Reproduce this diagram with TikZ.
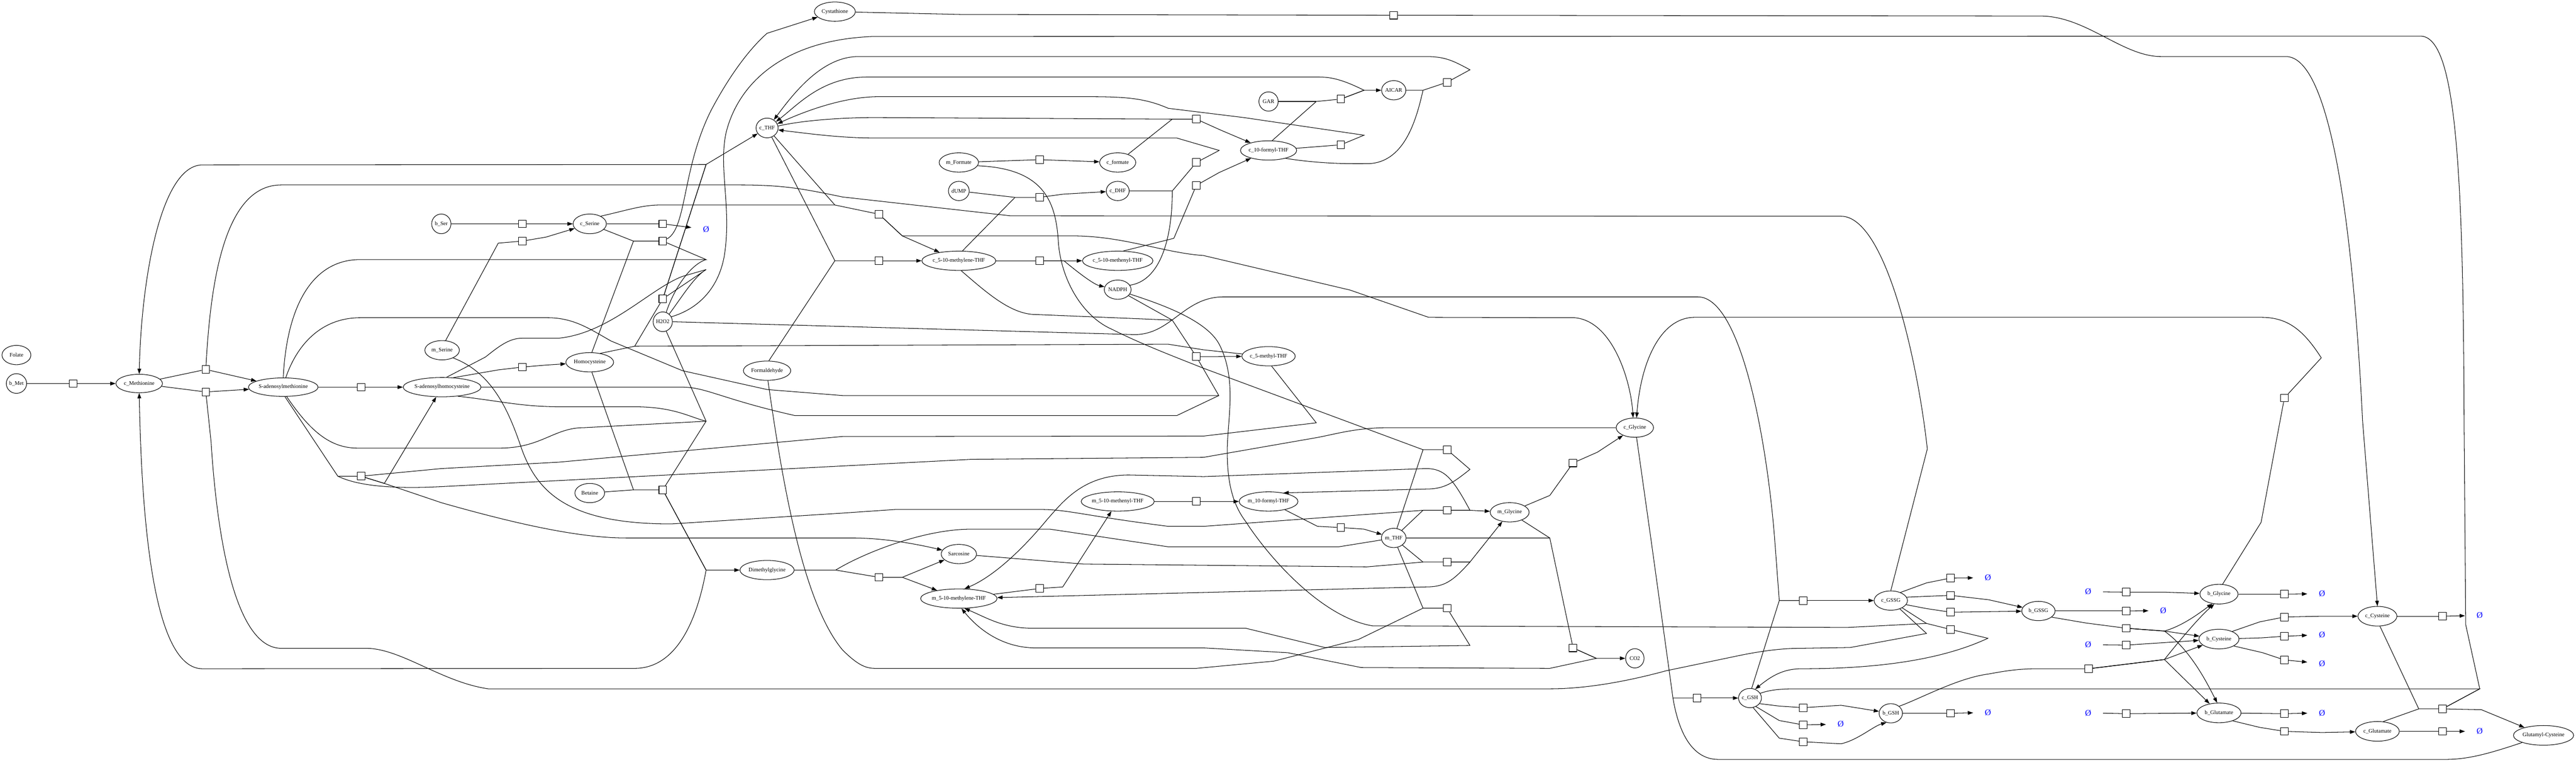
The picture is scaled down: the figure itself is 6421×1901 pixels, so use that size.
\documentclass[tikz,border=0pt]{standalone}
\usepackage{fontspec}
\setmainfont{Liberation Serif}
\usetikzlibrary{shapes.geometric,arrows.meta}
\tikzset{
  spc/.style 2 args={ellipse, draw, line width=0.38pt, inner sep=0pt, minimum width=#1cm, minimum height=#2cm, font=\fontsize{3.9}{4.7}\selectfont},
  rxn/.style={rectangle, draw, line width=0.38pt, minimum size=0.19cm, inner sep=0pt, fill=white},
  nul/.style={inner sep=0pt, minimum width=0.72cm, minimum height=0.48cm, text=blue, font=\fontsize{6}{7}\selectfont},
  lnk/.style={line width=0.38pt},
  arw/.style={line width=0.38pt, -{Triangle[length=0.133cm,width=0.093cm]}}
}
\begin{document}
\begin{tikzpicture}[x=0.01cm,y=-0.01cm]
\useasboundingbox (0,0) rectangle (6421,1901);
\fill[white] (0,0) rectangle (6421,1901);
% species
\node[spc={0.72}{0.48}] (Folate) at (41,885) {Folate};
\node[spc={0.47}{0.49}] (bMet) at (41,956) {b\_Met};
\node[spc={1.16}{0.46}] (cMet) at (347,956) {c\_Methionine};
\node[spc={1.69}{0.46}] (SAM) at (706,965) {S-adenosylmethionine};
\node[spc={1.88}{0.48}] (SAH) at (1102,965) {S-adenosylhomocysteine};
\node[spc={0.48}{0.49}] (bSer) at (1100,558) {b\_Ser};
\node[spc={0.83}{0.49}] (cSer) at (1470,558) {c\_Serine};
\node[spc={0.86}{0.48}] (mSer) at (1102,873) {m\_Serine};
\node[spc={1.19}{0.48}] (Hcy) at (1470,903) {Homocysteine};
\node[spc={0.48}{0.49}] (H2O2) at (1652,802) {H2O2};
\node[spc={0.74}{0.48}] (Bet) at (1470,1229) {Betaine};
\node[spc={1.18}{0.48}] (Form) at (1912,924) {Formaldehyde};
\node[spc={1.35}{0.48}] (DMG) at (1912,1421) {Dimethylglycine};
\node[spc={0.47}{0.49}] (cTHF) at (1912,319) {c\_THF};
\node[spc={1.02}{0.48}] (Cysta) at (2081,29) {Cystathione};
\node[spc={0.98}{0.48}] (mFor) at (2390,405) {m\_Formate};
\node[spc={0.90}{0.48}] (cFor) at (2786,405) {c\_formate};
\node[spc={0.48}{0.48}] (dUMP) at (2390,476) {dUMP};
\node[spc={0.48}{0.48}] (cDHF) at (2786,476) {c\_DHF};
\node[spc={1.77}{0.48}] (cMe) at (2390,650) {c\_5-10-methylene-THF};
\node[spc={1.70}{0.48}] (cMn) at (2786,650) {c\_5-10-methenyl-THF};
\node[spc={0.48}{0.48}] (NADPH) at (2786,722) {NADPH};
\node[spc={0.48}{0.48}] (GAR) at (3162,253) {GAR};
\node[spc={0.48}{0.48}] (AICAR) at (3474,225) {AICAR};
\node[spc={1.38}{0.48}] (cFo) at (3162,375) {c\_10-formyl-THF};
\node[spc={1.33}{0.48}] (cMTHF) at (3162,888) {c\_5-methyl-THF};
\node[spc={0.88}{0.48}] (Sarc) at (2390,1381) {Sarcosine};
\node[spc={1.82}{0.48}] (mMe) at (2390,1492) {m\_5-10-methylene-THF};
\node[spc={1.74}{0.48}] (mMn) at (2786,1250) {m\_5-10-methenyl-THF};
\node[spc={1.42}{0.48}] (mFo) at (3162,1250) {m\_10-formyl-THF};
\node[spc={0.48}{0.48}] (mTHF) at (3474,1341) {m\_THF};
\node[spc={0.97}{0.48}] (mGly) at (3763,1277) {m\_Glycine};
\node[spc={0.93}{0.48}] (cGly) at (4075,1066) {c\_Glycine};
\node[spc={0.46}{0.48}] (CO2) at (4075,1641) {CO2};
\node[spc={0.83}{0.48}] (cGSSG) at (4713,1497) {c\_GSSG};
\node[spc={0.83}{0.48}] (bGSSG) at (5081,1523) {b\_GSSG};
\node[spc={0.46}{0.48}] (cGSH) at (4362,1740) {c\_GSH};
\node[spc={0.48}{0.48}] (bGSH) at (4713,1778) {b\_GSH};
\node[spc={0.95}{0.49}] (bGly) at (5531,1481) {b\_Glycine};
\node[spc={1.00}{0.49}] (bCys) at (5531,1593) {b\_Cysteine};
\node[spc={1.10}{0.49}] (bGlu) at (5531,1777) {b\_Glutamate};
\node[spc={0.97}{0.49}] (cCys) at (5926,1536) {c\_Cysteine};
\node[spc={1.09}{0.49}] (cGlu) at (5926,1823) {c\_Glutamate};
\node[spc={1.50}{0.49}] (GluCys) at (6340,1833) {Glutamyl-Cysteine};
% reactions
\node[rxn] (q1) at (182,956) {};
\node[rxn] (q2) at (513,921) {};
\node[rxn] (q3) at (513,977) {};
\node[rxn] (q4) at (900,965) {};
\node[rxn] (q5) at (900,1187) {};
\node[rxn] (q6) at (1302,558) {};
\node[rxn] (q7) at (1302,601) {};
\node[rxn] (q8) at (1652,558) {};
\node[rxn] (q9) at (1652,601) {};
\node[rxn] (q10) at (1652,745) {};
\node[rxn] (q11) at (1302,915) {};
\node[rxn] (q12) at (1652,1221) {};
\node[rxn] (q13) at (2591,398) {};
\node[rxn] (q14) at (2591,492) {};
\node[rxn] (q15) at (2191,534) {};
\node[rxn] (q16) at (2191,650) {};
\node[rxn] (q17) at (2591,650) {};
\node[rxn] (q18) at (2982,297) {};
\node[rxn] (q19) at (2982,405) {};
\node[rxn] (q20) at (2982,462) {};
\node[rxn] (q21) at (2982,889) {};
\node[rxn] (q22) at (3342,247) {};
\node[rxn] (q23) at (3342,361) {};
\node[rxn] (q24) at (3607,205) {};
\node[rxn] (q25) at (3474,38) {};
\node[rxn] (q26) at (2191,1439) {};
\node[rxn] (q27) at (2591,1467) {};
\node[rxn] (q28) at (2982,1250) {};
\node[rxn] (q29) at (3342,1315) {};
\node[rxn] (q30) at (3607,1121) {};
\node[rxn] (q31) at (3607,1272) {};
\node[rxn] (q32) at (3607,1401) {};
\node[rxn] (q33) at (3607,1516) {};
\node[rxn] (q34) at (3921,1154) {};
\node[rxn] (q35) at (3921,1615) {};
\node[rxn] (q36) at (4495,1497) {};
\node[rxn] (q37) at (4230,1740) {};
\node[rxn] (q38) at (4862,1441) {};
\node[rxn] (q39) at (4862,1484) {};
\node[rxn] (q40) at (4862,1526) {};
\node[rxn] (q41) at (4862,1569) {};
\node[rxn] (q42) at (4495,1764) {};
\node[rxn] (q43) at (4495,1807) {};
\node[rxn] (q44) at (4495,1849) {};
\node[rxn] (q45) at (4862,1778) {};
\node[rxn] (q46) at (5300,1476) {};
\node[rxn] (q47) at (5300,1523) {};
\node[rxn] (q48) at (5300,1566) {};
\node[rxn] (q49) at (5300,1608) {};
\node[rxn] (q50) at (5206,1667) {};
\node[rxn] (q51) at (5300,1779) {};
\node[rxn] (q52) at (5694,1481) {};
\node[rxn] (q53) at (5694,1538) {};
\node[rxn] (q54) at (5694,1586) {};
\node[rxn] (q55) at (5694,1645) {};
\node[rxn] (q56) at (5694,1779) {};
\node[rxn] (q57) at (5694,1823) {};
\node[rxn] (q58) at (6088,1536) {};
\node[rxn] (q59) at (6088,1823) {};
\node[rxn] (q60) at (6088,1767) {};
\node[rxn] (q61) at (5694,992) {};
% empty sets
\node[nul] (e1) at (1760,572) {Ø};
\node[nul] (e2) at (4955,1440) {Ø};
\node[nul] (e3) at (4588,1805) {Ø};
\node[nul] (e4) at (4955,1776) {Ø};
\node[nul] (e5) at (5205,1475) {Ø};
\node[nul] (e6) at (5392,1522) {Ø};
\node[nul] (e7) at (5205,1607) {Ø};
\node[nul] (e8) at (5205,1777) {Ø};
\node[nul] (e9) at (5788,1480) {Ø};
\node[nul] (e10) at (5788,1582) {Ø};
\node[nul] (e11) at (5788,1654) {Ø};
\node[nul] (e12) at (5788,1777) {Ø};
\node[nul] (e13) at (6181,1534) {Ø};
\node[nul] (e14) at (6181,1823) {Ø};
% ---- methionine cycle
\draw[lnk] (bMet) -- (q1);
\draw[arw] (q1) -- (cMet);
\draw[lnk] (cMet) -- (q2);
\draw[arw] (q2) -- (SAM);
\draw[lnk] (cMet) -- (q3);
\draw[arw] (q3) -- (SAM);
\draw[lnk] (SAM) -- (q4);
\draw[arw] (q4) -- (SAH);
\draw[arw] (q10) -- (1760,410) -- (cTHF);
\draw[arw] (q10) -- (1760,410) -- (505,411) .. controls (400,411) and (352,700) .. (cMet.north);
\draw[lnk] (q2) .. controls (525,700) and (560,461) .. (701,461) -- (1842,461) .. controls (1950,461) and (2000,470) .. (2100,491) -- (2519,538) -- (4589,539) .. controls (4700,539) and (4780,900) .. (4804,1119) -- (cGSSG.north);
\draw[lnk] (q3) -- (526,1100) .. controls (545,1400) and (600,1616) .. (701,1616) -- (912,1616) .. controls (1000,1616) and (1100,1700) .. (1217,1717) -- (3863,1717) .. controls (3950,1717) and (4050,1700) .. (4153,1672) -- (4321,1637) .. controls (4400,1620) and (4450,1616) .. (4490,1616) -- (4612,1614) -- (4802,1579) -- (cGSSG);
\draw[lnk] (SAM.north) .. controls (715,760) and (780,647) .. (898,647) -- (1760,647) -- (q9);
\draw[lnk] (SAM.75) .. controls (740,860) and (800,792) .. (898,792) -- (1365,792) .. controls (1430,792) and (1470,820) .. (1523,850) -- (1701,924) -- (1912,971) -- (2100,986) -- (3038,986) -- (q21);
\draw[lnk] (SAM.-80) -- (842,1187) -- (q5);
\draw[lnk] (SAM.-70) .. controls (770,1070) and (820,1117) .. (891,1117) -- (1245,1117) .. controls (1350,1117) and (1380,1066) .. (1456,1066) -- (1760,1050) -- (q12);
\draw[arw] (q5) -- (958,1205) -- (SAH);
\draw[arw] (q5) -- (958,1205) -- (1100,1253) .. controls (1300,1310) and (1450,1341) .. (1561,1341) -- (2126,1341) .. controls (2200,1341) and (2280,1355) .. (Sarc);
\draw[lnk] (cGly) -- (3463,1066) .. controls (3380,1066) and (3330,1082) .. (3281,1091) -- (3000,1140) -- (2421,1145) -- (1100,1213) .. controls (1000,1218) and (900,1215) .. (842,1187);
\draw[lnk] (cMTHF.-73) -- (3281,1054) -- (3000,1087) -- (2100,1088) -- (1393,1152) -- (1100,1168) -- (q5);
\draw[arw] (q9) .. controls (1712,570) and (1700,420) .. (1772,276) .. controls (1820,185) and (1870,120) .. (1912,83) -- (Cysta);
\draw[lnk] (cSer) -- (1579,601) -- (q9);
\draw[lnk] (Hcy.78) -- (1579,601);
\draw[lnk] (H2O2.70) .. controls (1680,720) and (1720,660) .. (1760,647);
\draw[lnk] (H2O2.50) .. controls (1700,740) and (1730,690) .. (1760,672) -- (q10);
\draw[lnk] (SAH.66) -- (1210,890) .. controls (1245,862) and (1270,843) .. (1302,843) -- (1393,843) .. controls (1520,830) and (1620,720) .. (1701,689) -- (1760,672);
\draw[lnk] (Hcy.40) -- (1582,863) -- (q10);
\draw[lnk] (cMTHF.175) -- (3000,872) -- (2912,858) -- (1582,863);
\draw[lnk] (H2O2.30) .. controls (1740,770) and (1790,720) .. (1805,640) .. controls (1825,520) and (1790,420) .. (1810,330) .. controls (1840,210) and (1950,100) .. (2175,91) -- (6033,90) .. controls (6120,90) and (6140,400) .. (6142,1050) -- (6146,1557) -- (6181,1717) -- (q60);
\draw[lnk] (H2O2.east) -- (2828,834) .. controls (2920,834) and (2950,740) .. (3050,740) -- (4232,740) .. controls (4340,740) and (4405,1100) .. (4424,1350) -- (4435,1497) -- (q36);
\draw[lnk] (H2O2.-70) -- (1760,1050);
\draw[lnk] (SAH.-30) .. controls (1250,1000) and (1300,1014) .. (1400,1014) -- (1582,1014) .. controls (1680,1014) and (1720,1040) .. (1760,1050);
\draw[lnk] (SAH.east) -- (1701,965) .. controls (1760,965) and (1800,995) .. (1982,1036) -- (2933,1036) -- (3038,986);
\draw[lnk] (SAH.40) -- (1242,922) -- (q11);
\draw[arw] (q11) -- (1361,910) -- (Hcy);
\draw[lnk] (Hcy.-78) -- (1579,1221) -- (q12);
\draw[lnk] (Bet) -- (1579,1221);
\draw[arw] (q12) -- (1760,1421) -- (DMG);
\draw[arw] (q12) -- (1760,1421) .. controls (1735,1560) and (1680,1666) .. (1582,1666) -- (505,1667) .. controls (400,1667) and (355,1400) .. (cMet.south);
% ---- serine / cytosolic folate
\draw[lnk] (Form.80) -- (2081,650) -- (q16);
\draw[lnk] (cTHF) -- (2081,650);
\draw[arw] (q16) -- (cMe);
\draw[lnk] (cTHF) -- (2081,511) -- (q15);
\draw[lnk] (cSer.35) .. controls (1560,525) and (1600,511) .. (1645,511) -- (2081,511);
\draw[arw] (q15) -- (2249,588) -- (cMe);
\draw[arw] (q15) -- (2249,588) -- (2673,588) .. controls (2800,588) and (2900,630) .. (3000,637) -- (3365,723) -- (3561,791) -- (3925,792) .. controls (4020,800) and (4065,950) .. (cGly.100);
\draw[lnk] (bSer) -- (q6);
\draw[arw] (q6) -- (cSer);
\draw[lnk] (cSer) -- (q8);
\draw[arw] (q8) -- (e1);
\draw[lnk] (mSer.70) -- (1242,606) -- (q7);
\draw[arw] (q7) -- (1361,591) -- (cSer);
\draw[lnk] (cMe.-77) .. controls (2460,730) and (2520,784) .. (2582,784) -- (2922,798) -- (q21);
\draw[lnk] (NADPH) -- (2922,798);
\draw[arw] (q21) -- (cMTHF);
\draw[lnk] (NADPH.-20) .. controls (2900,760) and (3010,800) .. (3040,860) .. controls (3085,950) and (3058,1050) .. (3059,1132) .. controls (3060,1210) and (3075,1260) .. (3105,1300) .. controls (3170,1400) and (3300,1540) .. (3421,1560) -- (4605,1564) -- (4802,1554) -- (q41);
\draw[lnk] (cMe.70) -- (2530,492) -- (q14);
\draw[lnk] (dUMP) -- (2530,492);
\draw[arw] (q14) -- (2650,484) -- (cDHF);
\draw[lnk] (cMe) -- (q17);
\draw[arw] (q17) -- (2652,650) -- (cMn);
\draw[arw] (q17) -- (2652,650) .. controls (2700,690) and (2730,710) .. (NADPH);
\draw[lnk] (cDHF) -- (2922,476) -- (q19);
\draw[lnk] (NADPH.20) .. controls (2890,700) and (2922,600) .. (2922,476);
\draw[arw] (q19) -- (3039,375) -- (2933,344) -- (2182,344) .. controls (2100,344) and (2030,335) .. (cTHF.-10);
\draw[lnk] (cTHF.10) .. controls (2000,300) and (2100,293) .. (2182,293) -- (2922,297) -- (q18);
\draw[lnk] (cFor) -- (2922,297);
\draw[arw] (q18) -- (3042,324) -- (cFo);
\draw[lnk] (cMn.60) -- (2926,594) -- (q20);
\draw[arw] (q20) -- (3039,430) -- (cFo);
\draw[lnk] (cFo.70) -- (3281,253) -- (q22);
\draw[lnk] (GAR) -- (3281,253);
\draw[arw] (q22) -- (3400,225) -- (AICAR);
\draw[arw] (q22) -- (3400,225) .. controls (3350,200) and (3320,192) .. (3288,192) -- (2161,192) .. controls (2050,192) and (1990,260) .. (cTHF.35);
\draw[lnk] (AICAR) -- (3547,225) -- (q24);
\draw[lnk] (cFo.-25) .. controls (3300,410) and (3380,408) .. (3407,408) .. controls (3500,408) and (3530,300) .. (3547,225);
\draw[arw] (q24) -- (3664,174) .. controls (3620,150) and (3600,141) .. (3554,141) -- (2140,141) .. controls (2050,141) and (1980,230) .. (cTHF.50);
\draw[lnk] (cFo) -- (q23);
\draw[arw] (q23) -- (3400,337) -- (3100,293) -- (2912,270) .. controls (2850,243) and (2800,241) .. (2702,241) -- (2190,241) .. controls (2100,241) and (2000,280) .. (cTHF.22);
\draw[lnk] (mFor) -- (q13);
\draw[arw] (q13) -- (cFor);
\draw[lnk] (Cysta) -- (2393,36) -- (q25);
\draw[arw] (q25) -- (5086,40) .. controls (5200,40) and (5290,141) .. (5387,141) -- (5698,141) .. controls (5800,141) and (5862,500) .. (5889,1050) -- (cCys.north);
% ---- mitochondrial folate
\draw[lnk] (mSer.-35) .. controls (1230,930) and (1270,1030) .. (1300,1118) .. controls (1340,1230) and (1420,1306) .. (1673,1306) -- (2100,1279) -- (2231,1270) -- (2596,1270) .. controls (2660,1270) and (2700,1285) .. (2912,1312) -- (3000,1312) -- (3547,1272) -- (q31);
\draw[lnk] (mTHF) -- (3547,1272);
\draw[arw] (q31) -- (3664,1272) -- (mGly);
\draw[arw] (q31) -- (3664,1272) .. controls (3620,1190) and (3600,1168) .. (3554,1168) -- (3000,1188) -- (2814,1184) .. controls (2700,1184) and (2650,1250) .. (2610,1295) .. controls (2540,1380) and (2470,1440) .. (mMe.60);
\draw[lnk] (Form.-85) .. controls (1950,1200) and (2000,1500) .. (2100,1620) .. controls (2140,1660) and (2160,1666) .. (2182,1666) -- (2982,1666) -- (3175,1648) -- (3386,1594) -- (3547,1516) -- (q33);
\draw[lnk] (mTHF) -- (3547,1516);
\draw[arw] (q33) -- (3664,1609) -- (3302,1614) -- (3105,1566) -- (2575,1566) .. controls (2500,1566) and (2460,1540) .. (mMe.-60);
\draw[arw] (q35) -- (3979,1641) -- (3863,1666) -- (3393,1664) -- (3210,1627) -- (3000,1615) -- (2582,1615) .. controls (2500,1615) and (2440,1570) .. (mMe.-75);
\draw[lnk] (Sarc) -- (2701,1406) -- (3407,1413) -- (3547,1401) -- (q32);
\draw[lnk] (mTHF) -- (3547,1401);
\draw[arw] (q32) -- (3664,1401) -- (mGly);
\draw[arw] (q32) -- (3664,1401) .. controls (3620,1450) and (3600,1463) .. (3554,1463) -- (mMe);
\draw[lnk] (DMG) -- (2083,1421) -- (q26);
\draw[lnk] (mTHF) -- (3337,1363) -- (2912,1363) -- (2617,1319) -- (2421,1319) .. controls (2300,1319) and (2150,1380) .. (2083,1421);
\draw[arw] (q26) -- (2249,1439) -- (Sarc);
\draw[arw] (q26) -- (2249,1439) -- (mMe);
\draw[lnk] (mMe) -- (q27);
\draw[arw] (q27) -- (2649,1463) -- (mMn);
\draw[lnk] (mMn) -- (q28);
\draw[arw] (q28) -- (mFo);
\draw[lnk] (mFo) -- (3284,1312) -- (q29);
\draw[arw] (q29) -- (3400,1319) -- (mTHF);
\draw[lnk] (mFor.-10) .. controls (2600,420) and (2632,500) .. (2638,603) .. controls (2645,700) and (2700,790) .. (2772,821) .. controls (2850,860) and (2930,890) .. (3000,918) -- (3547,1121) -- (q30);
\draw[lnk] (mTHF) -- (3547,1121);
\draw[arw] (q30) -- (3664,1170) .. controls (3620,1205) and (3600,1219) .. (3554,1219) -- (3300,1226) -- (mFo.30);
\draw[lnk] (mTHF) -- (3863,1341) -- (q35);
\draw[lnk] (mGly) -- (3863,1341);
\draw[arw] (q35) -- (3979,1641) -- (CO2);
\draw[lnk] (mGly) -- (3863,1235) -- (q34);
\draw[arw] (q34) -- (3982,1127) -- (cGly);
% ---- glutathione
\draw[lnk] (cGly.-80) -- (4116,1350) -- (4170,1740) -- (q37);
\draw[lnk] (GluCys) .. controls (6200,1880) and (6150,1893) .. (6095,1893) -- (4283,1893) .. controls (4220,1893) and (4185,1830) .. (4170,1740);
\draw[arw] (q37) -- (cGSH);
\draw[lnk] (bGly.70) -- (5636,1302) -- (q61);
\draw[arw] (q61) -- (5786,892) .. controls (5740,820) and (5700,791) .. (5636,791) -- (4224,791) .. controls (4140,791) and (4090,900) .. (cGly.80);
\draw[lnk] (cGSSG) -- (4802,1554);
\draw[arw] (q41) -- (4955,1591) .. controls (4850,1640) and (4700,1667) .. (4490,1667) .. controls (4440,1667) and (4410,1690) .. (cGSH.60);
\draw[lnk] (cGSH.80) -- (4435,1497) -- (q36);
\draw[arw] (q36) -- (cGSSG);
\draw[lnk] (cGSSG.40) -- (4802,1453) -- (q38);
\draw[arw] (q38) -- (e2);
\draw[lnk] (cGSSG.12) -- (q39);
\draw[arw] (q39) -- (4957,1495) -- (bGSSG);
\draw[lnk] (cGSSG.-15) -- (4802,1517) -- (q40);
\draw[arw] (q40) -- (bGSSG);
\draw[lnk] (cGSH.-30) -- (4435,1760) -- (q42);
\draw[arw] (q42) -- (4589,1758) -- (bGSH);
\draw[lnk] (cGSH.-55) -- (4435,1796) -- (q43);
\draw[arw] (q43) -- (e3);
\draw[lnk] (cGSH.-72) -- (4435,1840) -- (q44);
\draw[arw] (q44) -- (4589,1854) .. controls (4630,1845) and (4670,1810) .. (bGSH.-115);
\draw[lnk] (bGSH) -- (q45);
\draw[arw] (q45) -- (e4);
\draw[lnk] (bGSH.40) .. controls (4790,1740) and (4880,1690) .. (4957,1680) .. controls (5010,1670) and (5040,1667) .. (5079,1667) -- (q50);
\draw[arw] (q50) -- (5395,1644) .. controls (5430,1600) and (5480,1540) .. (bGly.-115);
\draw[arw] (q50) -- (5395,1644) -- (bCys);
\draw[arw] (q50) -- (5395,1644) -- (bGlu);
\draw[lnk] (bGSSG) -- (q47);
\draw[arw] (q47) -- (e6);
\draw[lnk] (bGSSG.-25) -- (5200,1553) -- (q48);
\draw[arw] (q48) -- (5395,1573) -- (bCys);
\draw[arw] (q48) -- (5395,1573) .. controls (5440,1560) and (5480,1530) .. (bGly.-125);
\draw[arw] (q48) -- (5395,1573) .. controls (5460,1620) and (5500,1700) .. (bGlu.100);
\draw[lnk] (e5) -- (q46);
\draw[arw] (q46) -- (5395,1476) -- (bGly);
\draw[lnk] (e7) -- (q49);
\draw[arw] (q49) -- (bCys);
\draw[lnk] (e8) -- (q51);
\draw[arw] (q51) -- (bGlu);
\draw[lnk] (bGly) -- (q52);
\draw[arw] (q52) -- (e9);
\draw[lnk] (bCys.30) -- (5633,1550) -- (q53);
\draw[arw] (q53) -- (5788,1536) -- (cCys);
\draw[lnk] (bCys) -- (5636,1590) -- (q54);
\draw[arw] (q54) -- (e10);
\draw[lnk] (bCys.-25) -- (5640,1627) -- (q55);
\draw[arw] (q55) -- (e11);
\draw[lnk] (bGlu) -- (q56);
\draw[arw] (q56) -- (e12);
\draw[lnk] (bGlu.-30) -- (5632,1813) -- (q57);
\draw[arw] (q57) -- (5788,1826) -- (cGlu);
\draw[lnk] (cCys) -- (q58);
\draw[arw] (q58) -- (e13);
\draw[lnk] (cGlu) -- (q59);
\draw[arw] (q59) -- (e14);
\draw[lnk] (cCys.-76) -- (6029,1767) -- (q60);
\draw[lnk] (cGlu.60) -- (6029,1767);
\draw[arw] (q60) -- (6185,1769) -- (GluCys);
\draw[lnk] (cGSH.25) .. controls (4420,1717) and (4450,1717) .. (4490,1717) -- (6181,1717) -- (q60);
\end{tikzpicture}
\end{document}
